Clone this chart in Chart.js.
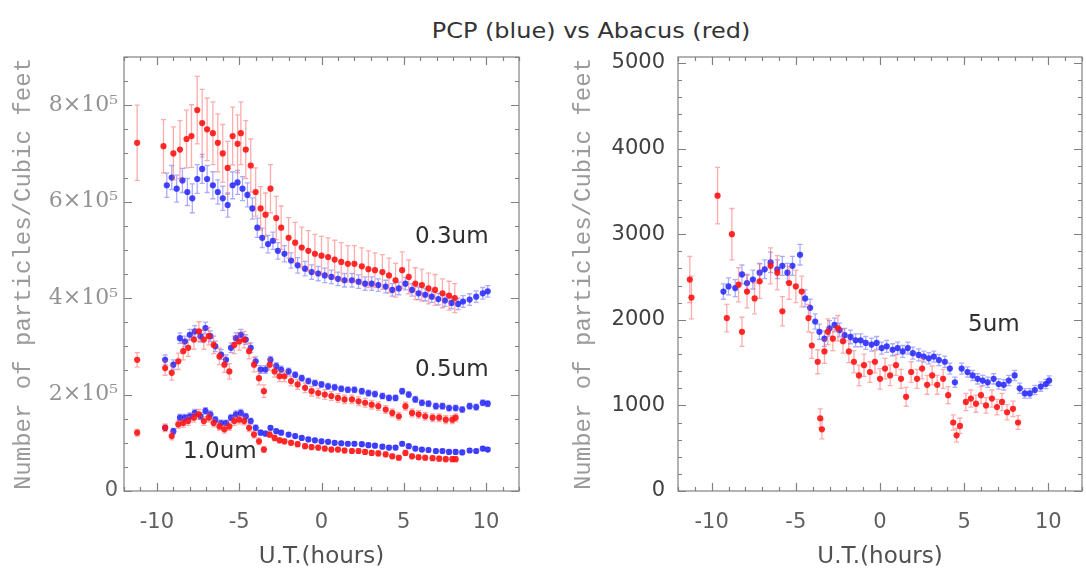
<!DOCTYPE html>
<html>
<head>
<meta charset="utf-8">
<script src="https://cdn.jsdelivr.net/npm/chart.js@4.4.1/dist/chart.umd.min.js"></script>
<style>
  html, body { margin: 0; padding: 0; background: #fff; }
  body { position: relative; width: 1086px; height: 575px; overflow: hidden; }
  canvas { position: absolute; left: 0; top: 0; }
  #title {
    position: absolute; left: 591px; top: 30px; white-space: nowrap;
    transform: translate(-50%, -50%) scaleX(1.09);
    font: 22px "DejaVu Sans", sans-serif; color: #333;
  }
</style>
</head>
<body>
<div id="title">PCP (blue) vs Abacus (red)</div>
<canvas id="leftPanel" width="1086" height="575"></canvas>
<canvas id="rightPanel" width="1086" height="575"></canvas>
<script>
// ---- Particle counts, 0.3 / 0.5 / 1.0 um (particles per cubic foot) ----
const abacusHours03 = [-11.2, -9.6, -9.0, -8.6, -8.2, -7.9, -7.55, -7.25, -6.95, -6.6,
  -6.3, -6.0, -5.7, -5.4, -5.1, -4.9, -4.6, -4.3, -4.0, -3.7,
  -3.4, -3.1, -2.75, -2.45, -2.0, -1.6, -1.2, -0.8, -0.4, 0,
  0.4, 0.8, 1.2, 1.6, 2.0, 2.45, 2.85, 3.25, 3.7, 4.1,
  4.5, 4.9, 5.3, 5.7, 6.1, 6.5, 6.9, 7.35, 7.75, 8.1];
const abacus03 = [7.22e5, 7.15e5, 7.0e5, 7.08e5, 7.3e5, 7.36e5, 7.9e5, 7.63e5, 7.5e5, 7.42e5,
  7.22e5, 7.0e5, 6.7e5, 7.36e5, 7.2e5, 7.42e5, 7.08e5, 6.75e5, 6.2e5, 5.86e5,
  5.73e5, 6.27e5, 5.66e5, 5.46e5, 5.25e5, 5.15e5, 5.05e5, 4.98e5, 4.92e5, 4.88e5,
  4.85e5, 4.8e5, 4.75e5, 4.71e5, 4.71e5, 4.66e5, 4.6e5, 4.58e5, 4.54e5, 4.47e5,
  4.37e5, 4.58e5, 4.44e5, 4.3e5, 4.27e5, 4.2e5, 4.17e5, 4.1e5, 4.05e5, 4.0e5];
const abacus03Err = [0.78e5, 0.55e5, 0.55e5, 0.6e5, 0.6e5, 0.65e5, 0.7e5, 0.7e5, 0.65e5, 0.65e5,
  0.6e5, 0.6e5, 0.55e5, 0.6e5, 0.6e5, 0.65e5, 0.6e5, 0.55e5, 0.5e5, 0.45e5,
  0.45e5, 0.5e5, 0.45e5, 0.45e5, 0.42e5, 0.42e5, 0.42e5, 0.42e5, 0.4e5, 0.4e5,
  0.4e5, 0.4e5, 0.4e5, 0.38e5, 0.38e5, 0.38e5, 0.38e5, 0.36e5, 0.36e5, 0.36e5,
  0.35e5, 0.38e5, 0.35e5, 0.33e5, 0.33e5, 0.32e5, 0.32e5, 0.3e5, 0.3e5, 0.3e5];

const abacusHours = [-11.2, -9.5, -9.1, -8.7, -8.4, -8.1, -7.75, -7.45, -7.15, -6.85,
  -6.55, -6.2, -5.9, -5.6, -5.3, -5.0, -4.7, -4.4, -4.1, -3.8,
  -3.5, -3.15, -2.85, -2.55, -2.25, -1.85, -1.45, -1.0, -0.6, -0.2,
  0.2, 0.6, 1.0, 1.4, 1.85, 2.25, 2.65, 3.05, 3.45, 3.9,
  4.3, 4.7, 5.1, 5.5, 5.9, 6.3, 6.75, 7.15, 7.55, 7.95, 8.15];
const abacus05 = [2.72e5, 2.55e5, 2.45e5, 2.69e5, 2.9e5, 2.97e5, 3.14e5, 3.31e5, 3.14e5, 3.21e5,
  3.03e5, 2.79e5, 2.62e5, 2.48e5, 3.03e5, 3.1e5, 3.14e5, 2.9e5, 2.62e5, 2.34e5,
  2.07e5, 2.62e5, 2.48e5, 2.38e5, 2.38e5, 2.28e5, 2.21e5, 2.14e5, 2.07e5, 2.03e5,
  2.0e5, 1.97e5, 1.93e5, 1.9e5, 1.9e5, 1.86e5, 1.83e5, 1.79e5, 1.76e5, 1.69e5,
  1.62e5, 1.55e5, 1.76e5, 1.62e5, 1.59e5, 1.55e5, 1.52e5, 1.52e5, 1.48e5, 1.48e5, 1.52e5];
const abacus05Err = [0.15e5, 0.15e5, 0.15e5, 0.17e5, 0.18e5, 0.18e5, 0.2e5, 0.2e5, 0.2e5, 0.18e5,
  0.18e5, 0.17e5, 0.16e5, 0.16e5, 0.18e5, 0.18e5, 0.17e5, 0.16e5, 0.15e5, 0.14e5,
  0.13e5, 0.12e5, 0.12e5, 0.11e5, 0.11e5, 0.1e5, 0.1e5, 0.1e5, 0.1e5, 0.1e5,
  0.1e5, 0.09e5, 0.09e5, 0.09e5, 0.09e5, 0.09e5, 0.09e5, 0.09e5, 0.09e5, 0.08e5,
  0.08e5, 0.08e5, 0.08e5, 0.08e5, 0.08e5, 0.08e5, 0.08e5, 0.08e5, 0.08e5, 0.08e5, 0.08e5];
const abacus10 = [1.21e5, 1.31e5, 1.14e5, 1.38e5, 1.41e5, 1.45e5, 1.52e5, 1.59e5, 1.45e5, 1.52e5,
  1.41e5, 1.34e5, 1.28e5, 1.34e5, 1.45e5, 1.48e5, 1.45e5, 1.31e5, 1.17e5, 1.03e5,
  0.86e5, 1.17e5, 1.1e5, 1.05e5, 1.03e5, 1.0e5, 0.97e5, 0.93e5, 0.91e5, 0.9e5,
  0.88e5, 0.86e5, 0.86e5, 0.84e5, 0.83e5, 0.83e5, 0.81e5, 0.79e5, 0.78e5, 0.76e5,
  0.72e5, 0.69e5, 0.79e5, 0.72e5, 0.7e5, 0.69e5, 0.68e5, 0.67e5, 0.66e5, 0.66e5, 0.66e5];
const abacus10Err = [0.07e5, 0.08e5, 0.08e5, 0.08e5, 0.09e5, 0.09e5, 0.09e5, 0.1e5, 0.09e5, 0.09e5,
  0.08e5, 0.08e5, 0.08e5, 0.08e5, 0.09e5, 0.09e5, 0.08e5, 0.08e5, 0.07e5, 0.07e5,
  0.06e5, 0.06e5, 0.06e5, 0.05e5, 0.05e5, 0.05e5, 0.05e5, 0.05e5, 0.05e5, 0.05e5,
  0.05e5, 0.05e5, 0.05e5, 0.05e5, 0.05e5, 0.05e5, 0.05e5, 0.05e5, 0.05e5, 0.05e5,
  0.05e5, 0.05e5, 0.05e5, 0.05e5, 0.05e5, 0.05e5, 0.05e5, 0.05e5, 0.05e5, 0.05e5, 0.05e5];

const pcpHours03 = [-9.4, -9.1, -8.8, -8.45, -8.15, -7.85, -7.55, -7.25, -6.95, -6.6,
  -6.3, -6.0, -5.7, -5.4, -5.1, -4.8, -4.5, -4.2, -3.9, -3.6,
  -3.25, -2.95, -2.65, -2.25, -1.85, -1.45, -1.0, -0.6, -0.2, 0.2,
  0.6, 1.0, 1.4, 1.85, 2.25, 2.65, 3.05, 3.45, 3.9, 4.3,
  4.7, 5.1, 5.5, 5.9, 6.3, 6.7, 7.1, 7.5, 7.9, 8.3,
  8.6, 9.0, 9.4, 9.8, 10.1];
const pcp03 = [6.34e5, 6.5e5, 6.27e5, 6.44e5, 6.2e5, 6.07e5, 6.47e5, 6.68e5, 6.47e5, 6.34e5,
  6.2e5, 6.07e5, 5.93e5, 6.34e5, 6.4e5, 6.27e5, 6.14e5, 5.86e5, 5.46e5, 5.25e5,
  5.12e5, 5.19e5, 4.98e5, 4.92e5, 4.78e5, 4.68e5, 4.61e5, 4.54e5, 4.51e5, 4.47e5,
  4.44e5, 4.4e5, 4.37e5, 4.37e5, 4.34e5, 4.3e5, 4.3e5, 4.27e5, 4.24e5, 4.17e5,
  4.2e5, 4.3e5, 4.17e5, 4.1e5, 4.07e5, 4.03e5, 3.98e5, 3.95e5, 3.9e5, 3.88e5,
  3.93e5, 3.97e5, 4.03e5, 4.1e5, 4.14e5];
const pcp03Err = [0.25e5, 0.25e5, 0.28e5, 0.25e5, 0.28e5, 0.3e5, 0.3e5, 0.3e5, 0.28e5, 0.28e5,
  0.25e5, 0.25e5, 0.25e5, 0.28e5, 0.25e5, 0.25e5, 0.25e5, 0.22e5, 0.2e5, 0.2e5,
  0.18e5, 0.18e5, 0.17e5, 0.17e5, 0.16e5, 0.16e5, 0.15e5, 0.15e5, 0.15e5, 0.15e5,
  0.14e5, 0.14e5, 0.14e5, 0.14e5, 0.14e5, 0.14e5, 0.14e5, 0.13e5, 0.13e5, 0.13e5,
  0.13e5, 0.13e5, 0.13e5, 0.13e5, 0.13e5, 0.12e5, 0.12e5, 0.12e5, 0.12e5, 0.12e5,
  0.12e5, 0.12e5, 0.12e5, 0.12e5, 0.12e5];

const pcpHours = [-9.5, -9.0, -8.6, -8.3, -8.0, -7.7, -7.35, -7.05, -6.75, -6.45,
  -6.1, -5.8, -5.5, -5.2, -4.9, -4.6, -4.3, -4.0, -3.7, -3.4,
  -3.1, -2.75, -2.45, -2.0, -1.6, -1.2, -0.8, -0.4, 0, 0.4,
  0.8, 1.2, 1.6, 2.0, 2.45, 2.85, 3.25, 3.7, 4.1, 4.5,
  4.9, 5.3, 5.7, 6.1, 6.5, 6.95, 7.35, 7.75, 8.15, 8.55,
  9.0, 9.4, 9.8, 10.1];
const pcp05 = [2.72e5, 2.62e5, 3.17e5, 3.1e5, 3.24e5, 3.31e5, 3.21e5, 3.38e5, 3.21e5, 3.0e5,
  2.83e5, 2.72e5, 2.97e5, 3.17e5, 3.24e5, 3.14e5, 2.97e5, 2.69e5, 2.52e5, 2.52e5,
  2.72e5, 2.59e5, 2.52e5, 2.48e5, 2.41e5, 2.34e5, 2.28e5, 2.24e5, 2.21e5, 2.17e5,
  2.15e5, 2.12e5, 2.1e5, 2.1e5, 2.07e5, 2.03e5, 2.01e5, 1.97e5, 1.93e5, 1.93e5,
  2.07e5, 2.0e5, 1.9e5, 1.83e5, 1.81e5, 1.76e5, 1.76e5, 1.72e5, 1.72e5, 1.69e5,
  1.76e5, 1.74e5, 1.83e5, 1.81e5];
const pcp05Err = [0.1e5, 0.1e5, 0.11e5, 0.11e5, 0.11e5, 0.12e5, 0.12e5, 0.12e5, 0.11e5, 0.11e5,
  0.1e5, 0.1e5, 0.1e5, 0.11e5, 0.11e5, 0.1e5, 0.1e5, 0.09e5, 0.08e5, 0.08e5,
  0.07e5, 0.07e5, 0.07e5, 0.07e5, 0.06e5, 0.06e5, 0.06e5, 0.06e5, 0.06e5, 0.06e5,
  0.06e5, 0.06e5, 0.06e5, 0.06e5, 0.06e5, 0.06e5, 0.06e5, 0.06e5, 0.06e5, 0.06e5,
  0.06e5, 0.06e5, 0.06e5, 0.06e5, 0.06e5, 0.06e5, 0.06e5, 0.06e5, 0.06e5, 0.06e5,
  0.06e5, 0.06e5, 0.06e5, 0.06e5];
const pcp10 = [1.31e5, 1.24e5, 1.52e5, 1.52e5, 1.55e5, 1.62e5, 1.55e5, 1.66e5, 1.59e5, 1.48e5,
  1.41e5, 1.41e5, 1.52e5, 1.59e5, 1.62e5, 1.55e5, 1.45e5, 1.31e5, 1.21e5, 1.19e5,
  1.31e5, 1.24e5, 1.21e5, 1.17e5, 1.14e5, 1.1e5, 1.07e5, 1.05e5, 1.03e5, 1.02e5,
  1.0e5, 0.99e5, 0.98e5, 0.98e5, 0.97e5, 0.95e5, 0.94e5, 0.92e5, 0.9e5, 0.9e5,
  0.98e5, 0.93e5, 0.88e5, 0.86e5, 0.85e5, 0.83e5, 0.83e5, 0.81e5, 0.81e5, 0.8e5,
  0.84e5, 0.83e5, 0.88e5, 0.86e5];
const pcp10Err = [0.06e5, 0.06e5, 0.07e5, 0.07e5, 0.07e5, 0.07e5, 0.07e5, 0.07e5, 0.07e5, 0.06e5,
  0.06e5, 0.06e5, 0.06e5, 0.07e5, 0.07e5, 0.06e5, 0.06e5, 0.06e5, 0.05e5, 0.05e5,
  0.04e5, 0.04e5, 0.04e5, 0.04e5, 0.04e5, 0.04e5, 0.04e5, 0.04e5, 0.04e5, 0.04e5,
  0.04e5, 0.04e5, 0.04e5, 0.04e5, 0.04e5, 0.04e5, 0.04e5, 0.04e5, 0.04e5, 0.04e5,
  0.04e5, 0.04e5, 0.04e5, 0.04e5, 0.04e5, 0.04e5, 0.04e5, 0.04e5, 0.04e5, 0.04e5,
  0.04e5, 0.04e5, 0.04e5, 0.04e5];

// ---- Particle counts, 5 um ----
const abacusHours5 = [-11.3, -11.2, -9.65, -9.1, -8.8, -8.4, -8.2, -7.9, -7.45, -7.15,
  -6.5, -6.1, -5.8, -5.4, -5.0, -4.65, -4.25, -4.05, -3.7, -3.55,
  -3.45, -3.3, -3.1, -2.8, -2.5, -2.2, -1.85, -1.55, -1.25, -0.95,
  -0.6, -0.3, 0, 0.3, 0.6, 0.95, 1.25, 1.55, 1.85, 2.2,
  2.5, 2.8, 3.1, 3.4, 3.75, 4.05, 4.35, 4.55, 4.75, 5.1,
  5.4, 5.7, 6.0, 6.3, 6.65, 6.95, 7.25, 7.55, 7.9, 8.2];
const abacus5 = [2470, 2260, 3450, 2020, 3000, 2410, 1860, 2330, 2250, 2450,
  2630, 2550, 2100, 2430, 2390, 2330, 2020, 1700, 1510, 850,
  720, 1630, 1860, 1780, 1900, 1750, 1630, 1510, 1350, 1470,
  1390, 1510, 1310, 1430, 1350, 1470, 1310, 1100, 1390, 1310,
  1430, 1240, 1350, 1240, 1310, 1120, 800, 650, 760, 1040,
  1080, 1020, 1120, 1000, 1080, 980, 1040, 920, 960, 800];
const abacus5Err = [270, 250, 330, 160, 300, 200, 170, 190, 180, 200,
  210, 200, 170, 190, 190, 180, 160, 150, 140, 110,
  110, 140, 150, 140, 150, 140, 130, 130, 120, 130,
  120, 130, 120, 120, 120, 120, 110, 110, 120, 110,
  120, 110, 110, 110, 110, 100, 90, 80, 90, 100,
  100, 100, 100, 90, 100, 90, 100, 90, 90, 80];

const pcpHours5 = [-9.3, -9.0, -8.6, -8.2, -7.9, -7.55, -7.15, -6.85, -6.5, -6.1,
  -5.8, -5.5, -5.2, -4.75, -4.45, -4.15, -3.85, -3.6, -3.3, -3.0,
  -2.7, -2.4, -2.1, -1.75, -1.45, -1.15, -0.85, -0.5, -0.2, 0.1,
  0.4, 0.75, 1.05, 1.35, 1.65, 1.95, 2.3, 2.6, 2.9, 3.2,
  3.5, 3.85, 4.15, 4.45, 4.85, 5.2, 5.5, 5.8, 6.1, 6.4,
  6.75, 7.05, 7.35, 7.65, 8.0, 8.3, 8.6, 8.9, 9.2, 9.55,
  9.85, 10.05];
const pcp5 = [2330, 2390, 2370, 2530, 2430, 2470, 2550, 2590, 2670, 2590,
  2630, 2550, 2630, 2760, 2250, 2140, 1980, 1860, 1780, 1900,
  1940, 1880, 1820, 1800, 1760, 1760, 1730, 1710, 1730, 1670,
  1690, 1650, 1670, 1630, 1670, 1610, 1590, 1570, 1550, 1570,
  1530, 1510, 1430, 1270, 1430, 1390, 1350, 1310, 1290, 1270,
  1310, 1250, 1240, 1290, 1350, 1200, 1140, 1140, 1180, 1220,
  1250, 1290];
const pcp5Err = [90, 100, 100, 110, 100, 110, 110, 110, 120, 110,
  110, 110, 110, 120, 100, 100, 90, 90, 90, 90,
  80, 80, 80, 80, 75, 75, 75, 75, 75, 70,
  70, 70, 70, 70, 70, 70, 70, 65, 65, 65,
  65, 65, 65, 60, 65, 60, 60, 60, 60, 60,
  60, 60, 60, 60, 60, 60, 55, 55, 55, 55,
  55, 55];

// ---- Axis ticks ----
const hourTicks = [-10, -5, 0, 5, 10];
const leftCountTicks = [0, 2e5, 4e5, 6e5, 8e5];
const rightCountTicks = [0, 1000, 2000, 3000, 4000, 5000];

const AXIS_TITLE = 'Number of particles/Cubic feet';
const PCP_POINT = 'rgba(35,35,255,0.85)';
const PCP_BAR = 'rgba(70,70,255,0.45)';
const ABACUS_POINT = 'rgba(255,20,20,0.9)';
const ABACUS_BAR = 'rgba(255,70,70,0.45)';

const points = (hours, vals) => hours.map((t, i) => ({ x: t, y: vals[i] }));

function series(hours, vals, errs, isPcp) {
  return {
    data: points(hours, vals),
    errors: errs,
    errorColor: isPcp ? PCP_BAR : ABACUS_BAR,
    backgroundColor: isPcp ? PCP_POINT : ABACUS_POINT,
    borderWidth: 0,
    pointRadius: 3.1,
    order: isPcp ? 1 : 0
  };
}

// Vertical error bars with small caps, drawn just before each dataset's markers.
const errorBars = {
  id: 'errorBars',
  beforeDatasetDraw(chart, args) {
    const ds = chart.data.datasets[args.index];
    if (!ds.errors) return;
    const { ctx, chartArea: a, scales: { y } } = chart;
    ctx.save();
    ctx.beginPath();
    ctx.rect(a.left, a.top, a.right - a.left, a.bottom - a.top);
    ctx.clip();
    ctx.strokeStyle = ds.errorColor;
    ctx.lineWidth = 1.3;
    args.meta.data.forEach((pt, i) => {
      const v = ds.data[i].y, e = ds.errors[i];
      const top = y.getPixelForValue(v + e), bot = y.getPixelForValue(v - e);
      ctx.beginPath();
      ctx.moveTo(pt.x, top); ctx.lineTo(pt.x, bot);
      ctx.moveTo(pt.x - 2.5, top); ctx.lineTo(pt.x + 2.5, top);
      ctx.moveTo(pt.x - 2.5, bot); ctx.lineTo(pt.x + 2.5, bot);
      ctx.stroke();
    });
    ctx.restore();
  }
};

// Box frame with inward major/minor tick marks on all four sides.
const frameTicks = {
  id: 'frameTicks',
  afterDatasetsDraw(chart, args, o) {
    const { ctx, chartArea: a, scales: { x, y } } = chart;
    ctx.save();
    ctx.strokeStyle = '#808080';
    ctx.lineWidth = 1.2;
    ctx.strokeRect(a.left, a.top, a.right - a.left, a.bottom - a.top);
    ctx.beginPath();
    for (let k = Math.ceil(x.min / o.xMinor); k * o.xMinor <= x.max; k++) {
      const v = k * o.xMinor;
      const len = Math.abs(v % o.xMajor) < 1e-9 ? 8 : 4;
      const px = Math.round(x.getPixelForValue(v)) + 0.5;
      ctx.moveTo(px, a.bottom); ctx.lineTo(px, a.bottom - len);
      ctx.moveTo(px, a.top); ctx.lineTo(px, a.top + len);
    }
    for (let k = Math.ceil(y.min / o.yMinor); k * o.yMinor <= y.max; k++) {
      const v = k * o.yMinor;
      const len = Math.abs(v % o.yMajor) < 1e-6 ? 8 : 4;
      const py = Math.round(y.getPixelForValue(v)) + 0.5;
      ctx.moveTo(a.left, py); ctx.lineTo(a.left + len, py);
      ctx.moveTo(a.right, py); ctx.lineTo(a.right - len, py);
    }
    ctx.stroke();
    ctx.restore();
  }
};

// Particle-size labels placed in data coordinates.
const sizeLabels = {
  id: 'sizeLabels',
  afterDraw(chart, args, o) {
    const { ctx, scales: { x, y } } = chart;
    ctx.save();
    ctx.font = '23px "DejaVu Sans", sans-serif';
    ctx.fillStyle = '#2e2e2e';
    ctx.textAlign = 'left';
    ctx.textBaseline = 'middle';
    (o.items || []).forEach(it => {
      ctx.fillText(it.text, x.getPixelForValue(it.x), y.getPixelForValue(it.y));
    });
    ctx.restore();
  }
};

function makePanel(id, p) {
  return new Chart(document.getElementById(id), {
    type: 'scatter',
    data: { datasets: p.datasets },
    options: {
      responsive: false,
      animation: false,
      events: [],
      layout: { padding: { left: p.padLeft, right: p.padRight, top: 57, bottom: 0 } },
      plugins: {
        legend: { display: false },
        tooltip: { enabled: false },
        frameTicks: p.frame,
        sizeLabels: { items: p.labels }
      },
      scales: {
        x: {
          type: 'linear', min: -12, max: 12,
          afterBuildTicks: s => { s.ticks = hourTicks.map(v => ({ value: v })); },
          afterFit: s => { s.height = 84; },
          grid: { display: false, drawTicks: false },
          border: { display: false },
          ticks: {
            padding: 19, autoSkip: false, maxRotation: 0,
            color: '#606060',
            font: { family: 'DejaVu Sans', size: 21 },
            callback: v => String(v)
          },
          title: {
            display: true, text: 'U.T.(hours)', color: '#505050',
            font: { family: 'DejaVu Sans', size: 23 },
            padding: { top: 0, bottom: 4 }
          }
        },
        y: {
          type: 'linear', min: 0, max: p.yMax,
          afterBuildTicks: s => { s.ticks = p.yTicks.map(v => ({ value: v })); },
          afterFit: s => { s.width = p.yWidth; },
          grid: { display: false, drawTicks: false },
          border: { display: false },
          ticks: {
            padding: p.yPad, autoSkip: false,
            color: p.yColor,
            font: p.yFont,
            callback: p.yLabel
          },
          title: {
            display: true, text: AXIS_TITLE, color: '#9a9a9a',
            font: { family: 'Liberation Mono', size: 24 },
            padding: { top: p.titlePad, bottom: 0 }
          }
        }
      }
    },
    plugins: [errorBars, frameTicks, sizeLabels]
  });
}

makePanel('leftPanel', {
  padLeft: 0, padRight: 567, yWidth: 124, yMax: 9e5, yTicks: leftCountTicks,
  yPad: 6, titlePad: 9,
  yColor: ctx => ctx.tick && ctx.tick.value === 0 ? '#606060' : '#939393',
  yFont: ctx => ctx.tick && ctx.tick.value === 0
    ? { family: 'DejaVu Sans', size: 21 }
    : { family: 'DejaVu Serif', size: 22 },
  yLabel: v => v === 0 ? '0' : (v / 1e5) + '×10⁵',
  frame: { xMajor: 5, xMinor: 1, yMajor: 2e5, yMinor: 5e4 },
  labels: [
    { text: '0.3um', x: 5.68, y: 5.27e5 },
    { text: '0.5um', x: 5.68, y: 2.51e5 },
    { text: '1.0um', x: -8.41, y: 0.81e5 }
  ],
  datasets: [
    series(pcpHours03, pcp03, pcp03Err, true),
    series(pcpHours, pcp05, pcp05Err, true),
    series(pcpHours, pcp10, pcp10Err, true),
    series(abacusHours03, abacus03, abacus03Err, false),
    series(abacusHours, abacus05, abacus05Err, false),
    series(abacusHours, abacus10, abacus10Err, false)
  ]
});

makePanel('rightPanel', {
  padLeft: 545, padRight: 4, yWidth: 133, yMax: 5070, yTicks: rightCountTicks,
  yPad: 13, titlePad: 24,
  yColor: '#404040',
  yFont: { family: 'DejaVu Sans', size: 21 },
  yLabel: v => String(v),
  frame: { xMajor: 5, xMinor: 1, yMajor: 1000, yMinor: 200 },
  labels: [
    { text: '5um', x: 5.23, y: 1939 }
  ],
  datasets: [
    series(pcpHours5, pcp5, pcp5Err, true),
    series(abacusHours5, abacus5, abacus5Err, false)
  ]
});
</script>
</body>
</html>
